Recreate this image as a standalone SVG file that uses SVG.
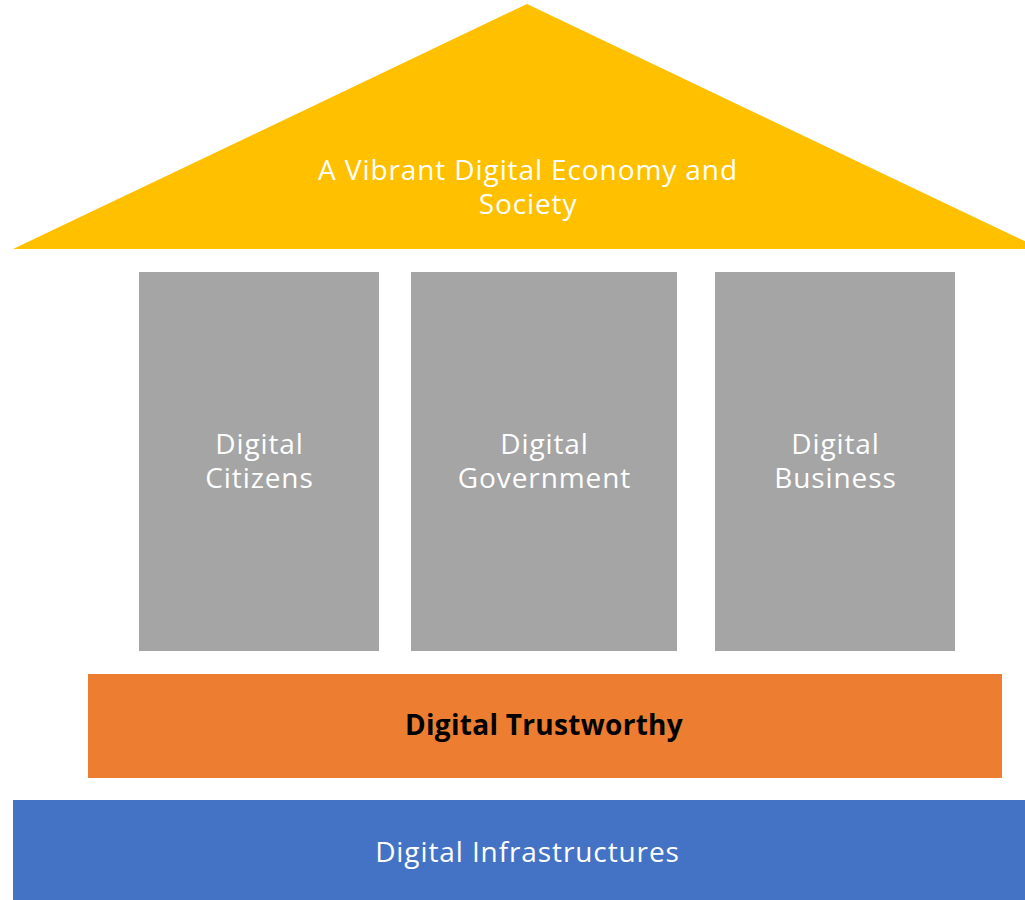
<svg xmlns="http://www.w3.org/2000/svg" width="1025" height="900" viewBox="0 0 1025 900">
<style>
.t{font-family:"Open Sans","Noto Sans","Liberation Sans",sans-serif;font-size:28px;letter-spacing:0.9px;fill:#ffffff;text-anchor:middle}
.b{font-family:"Open Sans","Noto Sans","Liberation Sans",sans-serif;font-size:28px;letter-spacing:0.3px;font-weight:bold;fill:#000000;text-anchor:middle}
.pillar{fill:#A5A5A5}
</style>
<rect width="1025" height="900" fill="#ffffff"/>
<g id="roof">
<polygon points="13,249 527,4 1041,249" fill="#FFC000"/>
<text class="t" x="528" y="180">A Vibrant Digital Economy and</text>
<text class="t" x="528" y="214">Society</text>
</g>
<g id="citizens">
<rect class="pillar" x="139" y="272" width="240" height="379"/>
<text class="t" x="259.5" y="454">Digital</text>
<text class="t" x="259.5" y="488">Citizens</text>
</g>
<g id="government">
<rect class="pillar" x="411" y="272" width="266" height="379"/>
<text class="t" x="544.5" y="454">Digital</text>
<text class="t" x="544.5" y="488">Government</text>
</g>
<g id="business">
<rect class="pillar" x="715" y="272" width="240" height="379"/>
<text class="t" x="835.5" y="454">Digital</text>
<text class="t" x="835.5" y="488">Business</text>
</g>
<g id="trustworthy">
<rect x="88" y="674" width="914" height="104" fill="#ED7D31"/>
<text class="b" x="544" y="735">Digital Trustworthy</text>
</g>
<g id="infrastructures">
<rect x="13" y="800" width="1012" height="100" fill="#4472C4"/>
<text class="t" x="527.5" y="862">Digital Infrastructures</text>
</g>
<g id="connectors"></g>
</svg>
